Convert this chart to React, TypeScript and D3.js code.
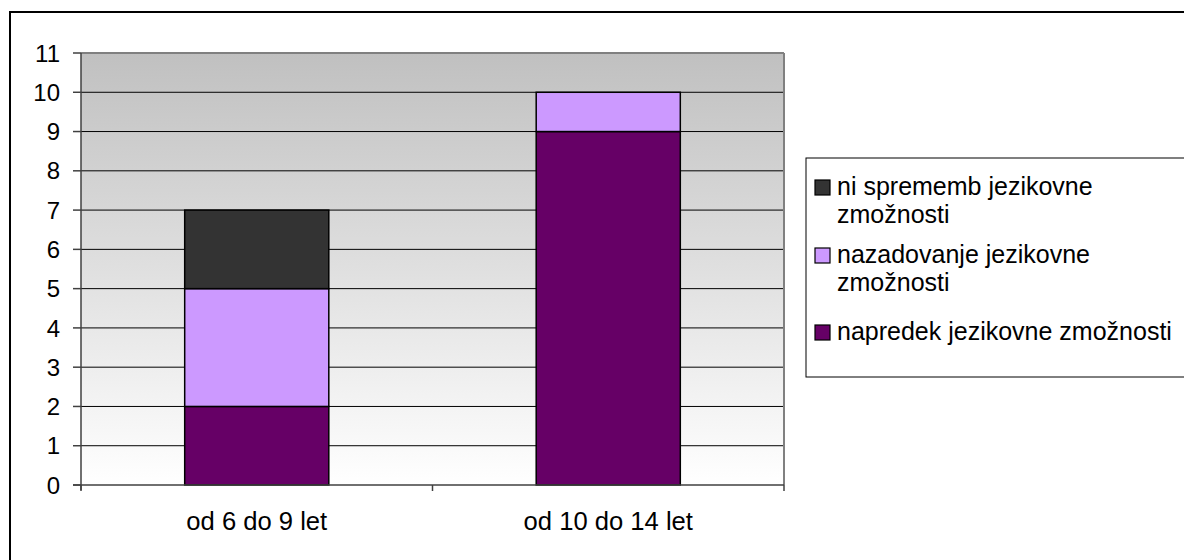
import React from "react";
import * as d3 from "d3";

const categories = ["od 6 do 9 let", "od 10 do 14 let"];
const seriesNames = [
  "napredek jezikovne zmožnosti",
  "nazadovanje jezikovne zmožnosti",
  "ni sprememb jezikovne zmožnosti",
];
const napredek = [2, 9];
const nazadovanje = [3, 1];
const niSprememb = [2, 0];
const seriesColors = ["#660066", "#cc99ff", "#333333"];
const yTicks = [0, 1, 2, 3, 4, 5, 6, 7, 8, 9, 10, 11];
// legend entries, top to bottom, each split into its wrapped lines
const legendLines = [
  ["ni sprememb jezikovne", "zmožnosti"],
  ["nazadovanje jezikovne", "zmožnosti"],
  ["napredek jezikovne zmožnosti"],
];

const W = 1184;
const H = 560;
const plot = { left: 81, right: 784, top: 53, bottom: 485 };
const FONT = "'Liberation Sans', Arial, sans-serif";

export default function App() {
  const x = d3
    .scaleBand<string>()
    .domain(categories)
    .range([plot.left, plot.right])
    .paddingInner(0.59)
    .paddingOuter(0.295);
  const bandOuter = d3
    .scaleBand<string>()
    .domain(categories)
    .range([plot.left, plot.right]);
  const y = d3.scaleLinear().domain([0, 11]).range([plot.bottom, plot.top]);

  const table = categories.map((c, i) => ({
    cat: c,
    s0: napredek[i],
    s1: nazadovanje[i],
    s2: niSprememb[i],
  }));
  const stacked = d3.stack<any>().keys(["s0", "s1", "s2"])(table);

  const legendTop = [180, 248, 325];
  const legendColorOrder = [2, 1, 0];
  const lineGap = 28;

  const xTicks = [plot.left, ...categories.map((c) => (bandOuter(c) as number) + bandOuter.bandwidth())];

  return (
    <svg
      width={W}
      height={H}
      style={{ position: "absolute", left: 0, top: 0, background: "#fff" }}
      fontFamily={FONT}
    >
      <defs>
        <linearGradient id="plotBg" x1="0" y1="0" x2="0" y2="1">
          <stop offset="0" stopColor="#c0c0c0" />
          <stop offset="1" stopColor="#ffffff" />
        </linearGradient>
      </defs>
      {/* chart frame */}
      <rect x={10} y={12} width={W} height={H} fill="#fff" stroke="#000" strokeWidth={2} />

      {/* plot area */}
      <rect
        x={plot.left}
        y={plot.top}
        width={plot.right - plot.left}
        height={plot.bottom - plot.top}
        fill="url(#plotBg)"
      />
      {yTicks.slice(1, -1).map((t) => (
        <line key={t} x1={plot.left} x2={plot.right} y1={y(t)} y2={y(t)} stroke="#000" strokeWidth={1} />
      ))}
      <line x1={plot.left} x2={plot.right} y1={plot.top} y2={plot.top} stroke="#808080" strokeWidth={2} />
      <line x1={plot.right} x2={plot.right} y1={plot.top} y2={plot.bottom} stroke="#808080" strokeWidth={2} />

      {/* bars */}
      {stacked.map((layer, si) =>
        layer.map((d, i) =>
          d[1] - d[0] > 0 ? (
            <rect
              key={`${si}-${i}`}
              x={x(categories[i])}
              width={x.bandwidth()}
              y={y(d[1])}
              height={y(d[0]) - y(d[1])}
              fill={seriesColors[si]}
              stroke="#000"
              strokeWidth={1.5}
            />
          ) : null
        )
      )}

      {/* axes */}
      <line x1={plot.left} x2={plot.left} y1={plot.top} y2={plot.bottom + 5} stroke="#404040" strokeWidth={1.5} />
      <line x1={plot.left - 8} x2={plot.right} y1={plot.bottom} y2={plot.bottom} stroke="#404040" strokeWidth={1.5} />
      {yTicks.map((t) => (
        <g key={t}>
          <line x1={plot.left - 8} x2={plot.left} y1={y(t)} y2={y(t)} stroke="#404040" strokeWidth={1.5} />
          <text x={60} y={y(t)} dy="0.36em" textAnchor="end" fontSize={24} fill="#000">
            {t}
          </text>
        </g>
      ))}
      {xTicks.map((tx, i) => (
        <line key={i} x1={tx} x2={tx} y1={plot.bottom} y2={plot.bottom + 6} stroke="#404040" strokeWidth={1.5} />
      ))}
      {categories.map((c) => (
        <text
          key={c}
          x={(bandOuter(c) as number) + bandOuter.bandwidth() / 2}
          y={530}
          textAnchor="middle"
          fontSize={25.6}
          fill="#000"
        >
          {c}
        </text>
      ))}

      {/* legend */}
      <rect x={806} y={158} width={400} height={219} fill="#fff" stroke="#000" strokeWidth={1} />
      {legendLines.map((lines, i) => (
        <g key={i}>
          <rect
            x={815}
            y={legendTop[i]}
            width={15}
            height={15}
            fill={seriesColors[legendColorOrder[i]]}
            stroke="#000"
            strokeWidth={1.2}
          />
          {lines.map((ln, j) => (
            <text key={j} x={837} y={legendTop[i] + 15 + j * lineGap} fontSize={25} fill="#000">
              {ln}
            </text>
          ))}
        </g>
      ))}
    </svg>
  );
}
